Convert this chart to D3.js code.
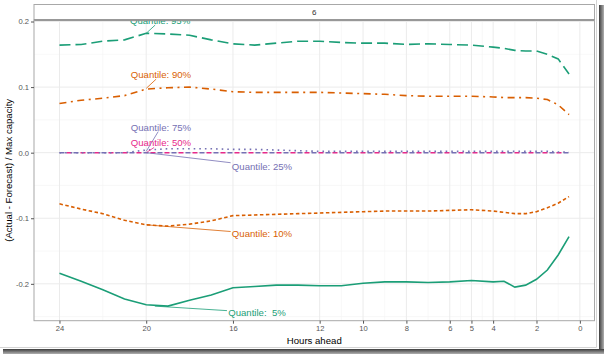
<!DOCTYPE html>
<html>
<head>
<meta charset="utf-8">
<script src="https://cdn.jsdelivr.net/npm/d3@7/dist/d3.min.js"></script>
<style>
  body { margin: 0; background: #fff; }
  svg { display: block; }
  text { font-family: "Liberation Sans", Arial, sans-serif; }
</style>
</head>
<body>
<script>
// hours ahead and quantile errors ((actual - forecast) / max capacity)
var hours = [24,23,22,21,20,19,18,17,16,15,14,13,12,11,10,9,8,7,6,5,4,3.5,3,2.5,2,1.5,1,0.5];
var q05 = [-0.184,-0.196,-0.209,-0.223,-0.232,-0.234,-0.225,-0.217,-0.206,-0.204,-0.202,-0.202,-0.203,-0.203,-0.199,-0.197,-0.197,-0.198,-0.197,-0.195,-0.197,-0.196,-0.205,-0.202,-0.193,-0.179,-0.156,-0.128];
var q10 = [-0.078,-0.086,-0.093,-0.103,-0.110,-0.112,-0.109,-0.104,-0.096,-0.095,-0.094,-0.093,-0.092,-0.091,-0.090,-0.089,-0.089,-0.089,-0.088,-0.087,-0.089,-0.091,-0.093,-0.093,-0.090,-0.084,-0.077,-0.067];
var q25 = [0,0,0,0,0,0,0,0,0,0,0,0,0,0,0,0,0,0,0,0,0,0,0,0,0,0,0,0];
var q50 = [0,0,0,0,0,0,0,0,0,0,0,0,0,0,0,0,0,0,0,0,0,0,0,0,0,0,0,0];
var q75 = [0,0,0,0,0.004,0.006,0.006,0.006,0.005,0.005,0.004,0.003,0.002,0.002,0.002,0.002,0.002,0.002,0.002,0.002,0.002,0.002,0.002,0.002,0.002,0.002,0.001,0.001];
var q90 = [0.075,0.080,0.083,0.087,0.097,0.099,0.100,0.097,0.093,0.092,0.092,0.092,0.092,0.091,0.090,0.089,0.087,0.086,0.086,0.086,0.085,0.084,0.084,0.084,0.083,0.081,0.073,0.058];
var q95 = [0.164,0.165,0.170,0.172,0.182,0.181,0.179,0.172,0.166,0.164,0.167,0.170,0.170,0.168,0.167,0.167,0.165,0.166,0.165,0.164,0.161,0.159,0.156,0.155,0.155,0.150,0.143,0.120];

var xTicks = [24,20,16,12,10,8,6,5,4,2,0];
var xMinor = [22,18,14,11,9,7,5.5,4.5,3,1];
var yTicks = [-0.2,-0.1,0,0.1,0.2];
var yMinor = [-0.25,-0.15,-0.05,0.05,0.15];
var facetLabel = "6";

// label text, point the segment starts at (hour, value), and label centre (hour, value)
var labelText  = ["Quantile: 95%","Quantile: 90%","Quantile: 75%","Quantile: 50%","Quantile: 25%","Quantile: 10%","Quantile:  5%"];
var labelFromH = [20,20,20,20,20,20,19.6];
var labelFromV = [0.182,0.098,0.002,0,0,-0.110,-0.234];
var labelAtH   = [19.36,19.32,19.32,19.32,14.66,14.66,14.89];
var labelAtV   = [0.2015,0.119,0.039,0.0148,-0.021,-0.124,-0.2437];
var labelColor = ["#1b9e77","#d95f02","#7570b3","#e7298a","#7570b3","#d95f02","#1b9e77"];

var width = 604, height = 354;
var panel = {left:34, right:594.5, top:20, bottom:320.7};

var svg = d3.select("body").append("svg").attr("width", width).attr("height", height);

// drop shadow of the picture frame
var defs = svg.append("defs");
var gr = defs.append("linearGradient").attr("id","shR").attr("x1","0").attr("x2","1").attr("y1","0").attr("y2","0");
gr.append("stop").attr("offset","0").attr("stop-color","#3c3c3c");
gr.append("stop").attr("offset","1").attr("stop-color","#b0b0b0");
var gb = defs.append("linearGradient").attr("id","shB").attr("x1","0").attr("x2","0").attr("y1","0").attr("y2","1");
gb.append("stop").attr("offset","0").attr("stop-color","#3c3c3c");
gb.append("stop").attr("offset","1").attr("stop-color","#b0b0b0");
svg.append("rect").attr("x",599).attr("y",5).attr("width",5).attr("height",349).attr("fill","url(#shR)");
svg.append("rect").attr("x",3).attr("y",349).attr("width",601).attr("height",5).attr("fill","url(#shB)");
svg.append("path").attr("d","M596.5,0V347.5H0").attr("fill","none").attr("stroke","#d4d4d4");

var x = d3.scaleLinear().domain([25.175, -0.675]).range([panel.left, panel.right]);
var y = d3.scaleLinear().domain([-0.2562, 0.2023]).range([panel.bottom, panel.top]);

// grid
var grid = svg.append("g");
grid.selectAll(".ymin").data(yMinor).enter().append("line")
    .attr("x1", panel.left).attr("x2", panel.right)
    .attr("y1", function(d){ return y(d); }).attr("y2", function(d){ return y(d); })
    .attr("stroke","#f4f4f4").attr("stroke-width",0.6);
grid.selectAll(".xmin").data(xMinor).enter().append("line")
    .attr("y1", panel.top).attr("y2", panel.bottom)
    .attr("x1", function(d){ return x(d); }).attr("x2", function(d){ return x(d); })
    .attr("stroke","#f4f4f4").attr("stroke-width",0.6);
grid.selectAll(".ymaj").data(yTicks).enter().append("line")
    .attr("x1", panel.left).attr("x2", panel.right)
    .attr("y1", function(d){ return y(d); }).attr("y2", function(d){ return y(d); })
    .attr("stroke","#ebebeb").attr("stroke-width",1);
grid.selectAll(".xmaj").data(xTicks).enter().append("line")
    .attr("y1", panel.top).attr("y2", panel.bottom)
    .attr("x1", function(d){ return x(d); }).attr("x2", function(d){ return x(d); })
    .attr("stroke","#ebebeb").attr("stroke-width",1);

// series
var series = [
  {values:q95, color:"#1b9e77", dash:"11,5"},
  {values:q90, color:"#d95f02", dash:"7,4.5,2,4.5"},
  {values:q10, color:"#d95f02", dash:"3.5,2.5"},
  {values:q05, color:"#1b9e77", dash:null},
  {values:q25, color:"#7570b3", dash:"5,9"},
  {values:q50, color:"#e7298a", dash:"5,9", offset:7},
  {values:q75, color:"#7570b3", dash:"1.6,4"}
];

var line = d3.line()
    .x(function(d){ return x(d[0]); })
    .y(function(d){ return y(d[1]); });

series.forEach(function(s){
  var pts = hours.map(function(h, i){ return [h, s.values[i]]; });
  var p = svg.append("path").attr("d", line(pts))
      .attr("fill","none").attr("stroke", s.color).attr("stroke-width",1.6);
  if (s.dash) p.attr("stroke-dasharray", s.dash);
  if (s.offset) p.attr("stroke-dashoffset", s.offset);
});

// repel-style labels: segment from the point toward the label centre, stopped at the label box
var labG = svg.append("g");
labelText.forEach(function(t, i){
  var cx = x(labelAtH[i]), cy = y(labelAtV[i]);
  var px = x(labelFromH[i]), py = y(labelFromV[i]);
  var txt = labG.append("text").attr("x", cx).attr("y", cy)
      .attr("text-anchor","middle").attr("dominant-baseline","central")
      .style("white-space","pre")
      .attr("font-size", 9.6).attr("fill", labelColor[i]).text(t);
  var bb = txt.node().getBBox();
  var hw = bb.width / 2 + 1, hh = bb.height / 2 - 1;
  var dx = cx - px, dy = cy - py;
  var a = dx !== 0 ? 1 - hw / Math.abs(dx) : 0;
  var b = dy !== 0 ? 1 - hh / Math.abs(dy) : 0;
  var tt = Math.max(0, Math.max(a, b));
  labG.insert("line","text").attr("x1", px).attr("y1", py)
      .attr("x2", px + dx * tt).attr("y2", py + dy * tt)
      .attr("stroke", labelColor[i]).attr("stroke-width", 0.8);
});

// strip on top
svg.append("rect").attr("x", panel.left).attr("y", 4.5)
   .attr("width", panel.right - panel.left).attr("height", 15.5)
   .attr("fill","#fff").attr("stroke","#a8a8a8").attr("stroke-width",1);
svg.append("line").attr("x1", panel.left).attr("x2", panel.right).attr("y1", 20).attr("y2", 20)
   .attr("stroke","#707070").attr("stroke-width",1.3);
svg.append("text").attr("x", (panel.left + panel.right) / 2).attr("y", 12.5)
   .attr("text-anchor","middle").attr("dominant-baseline","central")
   .attr("font-size", 8).attr("fill","#333").text(facetLabel);

// panel border
svg.append("rect").attr("x", panel.left).attr("y", panel.top)
   .attr("width", panel.right - panel.left).attr("height", panel.bottom - panel.top)
   .attr("fill","none").attr("stroke","#a8a8a8").attr("stroke-width",1);

// axes
var xAxis = d3.axisBottom(x).tickValues(xTicks).tickSize(3).tickPadding(2)
    .tickFormat(function(d){ return String(d); });
var yAxis = d3.axisLeft(y).tickValues(yTicks).tickSize(3).tickPadding(2)
    .tickFormat(function(d){ return (d < 0 ? "-" : "") + Math.abs(d).toFixed(1); });

var gx = svg.append("g").attr("transform","translate(0," + panel.bottom + ")").call(xAxis);
var gy = svg.append("g").attr("transform","translate(" + panel.left + ",0)").call(yAxis);
[gx, gy].forEach(function(g){
  g.select(".domain").remove();
  g.selectAll(".tick line").attr("stroke","#555");
  g.selectAll(".tick text").attr("fill","#555").attr("font-size",7.6)
   .attr("font-family","'Liberation Sans', Arial, sans-serif");
});

svg.append("text").attr("x", (panel.left + panel.right) / 2).attr("y", 344)
   .attr("text-anchor","middle").attr("font-size", 9.6).attr("fill","#000").text("Hours ahead");
svg.append("text")
   .attr("transform","translate(12," + ((panel.top + panel.bottom) / 2) + ") rotate(-90)")
   .attr("text-anchor","middle").attr("font-size", 9.6).attr("fill","#000")
   .text("(Actual - Forecast) / Max capacity");
</script>
</body>
</html>
